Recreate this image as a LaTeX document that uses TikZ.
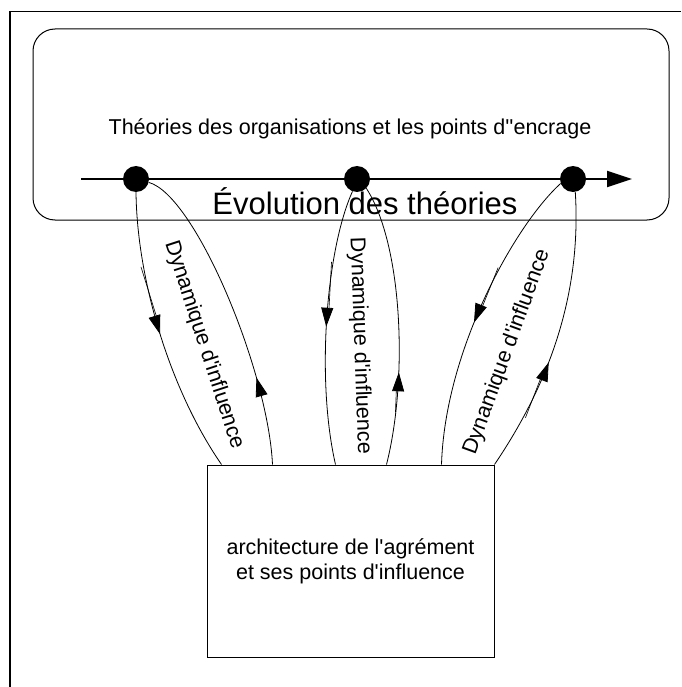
\documentclass[tikz,border=0pt]{standalone}
\usepackage{fontspec}
\setmainfont{Liberation Sans}[Ligatures=TeXOff]
\usetikzlibrary{arrows.meta,decorations.markings}
\begin{document}
\begin{tikzpicture}[x=1pt,y=-1pt,
  lbl/.style={font=\fontsize{21.5}{25}\selectfont, inner sep=0pt},
  dotnode/.style={circle, fill=black, minimum size=26pt, inner sep=0pt},
  flow/.style={line width=0.8pt},
  % arrow tip part-way along a loop, with the short doubled stroke behind it
  midarrow/.style 2 args={postaction={decorate}, decoration={markings,
    mark=at position #1 with {\arrow{Triangle[length=19pt,width=12pt]}
      \draw[line width=0.6pt] (-#2,1.8pt) -- (-14pt,1.8pt);}}},
]
\useasboundingbox (0,0) rectangle (681,687);

% page frame (top and left edges)
\draw[line width=1.3pt] (10,687) -- (10,11.5) -- (681,11.5);

% theories panel
\node[draw, line width=1pt, rounded corners=22pt, minimum width=636pt,
      minimum height=191pt, inner sep=0pt] (theo) at (351,124.5) {};
\node[lbl, anchor=base] (title) at (350,135)
  {Théories des organisations et les points d''encrage};
\node[font=\fontsize{31}{36}\selectfont, inner sep=0pt, anchor=base] (evo)
  at (365,214) {Évolution des théories};

% time axis
\coordinate (ls) at (81,179);
\coordinate (le) at (632,179);
\draw[line width=1.8pt, -{Triangle[length=25pt,width=16pt]}] (ls) -- (le);
\node[dotnode] (d1) at (136,179) {};
\node[dotnode] (d2) at (357,179) {};
\node[dotnode] (d3) at (573,179) {};

% agreement box
\node[draw, line width=1pt, minimum width=287pt, minimum height=192pt,
      align=center, lbl] (arch) at (350.5,561)
  {architecture de l'agrément\\et ses points d'influence};

\coordinate (bL1) at ([xshift=15pt]arch.north west);
\coordinate (bL2) at ([xshift=66pt]arch.north west);
\coordinate (bM1) at ([xshift=129pt]arch.north west);
\coordinate (bM2) at ([xshift=180pt]arch.north west);
\coordinate (bR1) at ([xshift=235pt]arch.north west);
\coordinate (bR2) at (arch.north east);

% influence loops
\draw[flow, midarrow={0.5}{70pt}] (d1.south) .. controls (137,280) and (170,390) .. (bL1);
\draw[flow, midarrow={0.28}{14pt}] (bL2) .. controls (268,370) and (195,195) .. (d1.-15);
\draw[flow, midarrow={0.5}{65pt}] (d2.-110) .. controls (326,250) and (316,380) .. (bM1);
\draw[flow, midarrow={0.33}{40pt}] (bM2) .. controls (408,380) and (403,245) .. (d2.-45);
\draw[flow, midarrow={0.53}{60pt}] (d3.-160) .. controls (515,225) and (445,350) .. (bR1);
\draw[flow, midarrow={0.4}{60pt}] (bR2) .. controls (545,390) and (582,300) .. (d3.-80);

% loop labels
\node[lbl, rotate=-72] (lab1) at (204,345) {Dynamique d'influence};
\node[lbl, rotate=-88] (lab2) at (360,346) {Dynamique d'influence};
\node[lbl, rotate=70] (lab3) at (507,352) {Dynamique d'influence};
\end{tikzpicture}
\end{document}
